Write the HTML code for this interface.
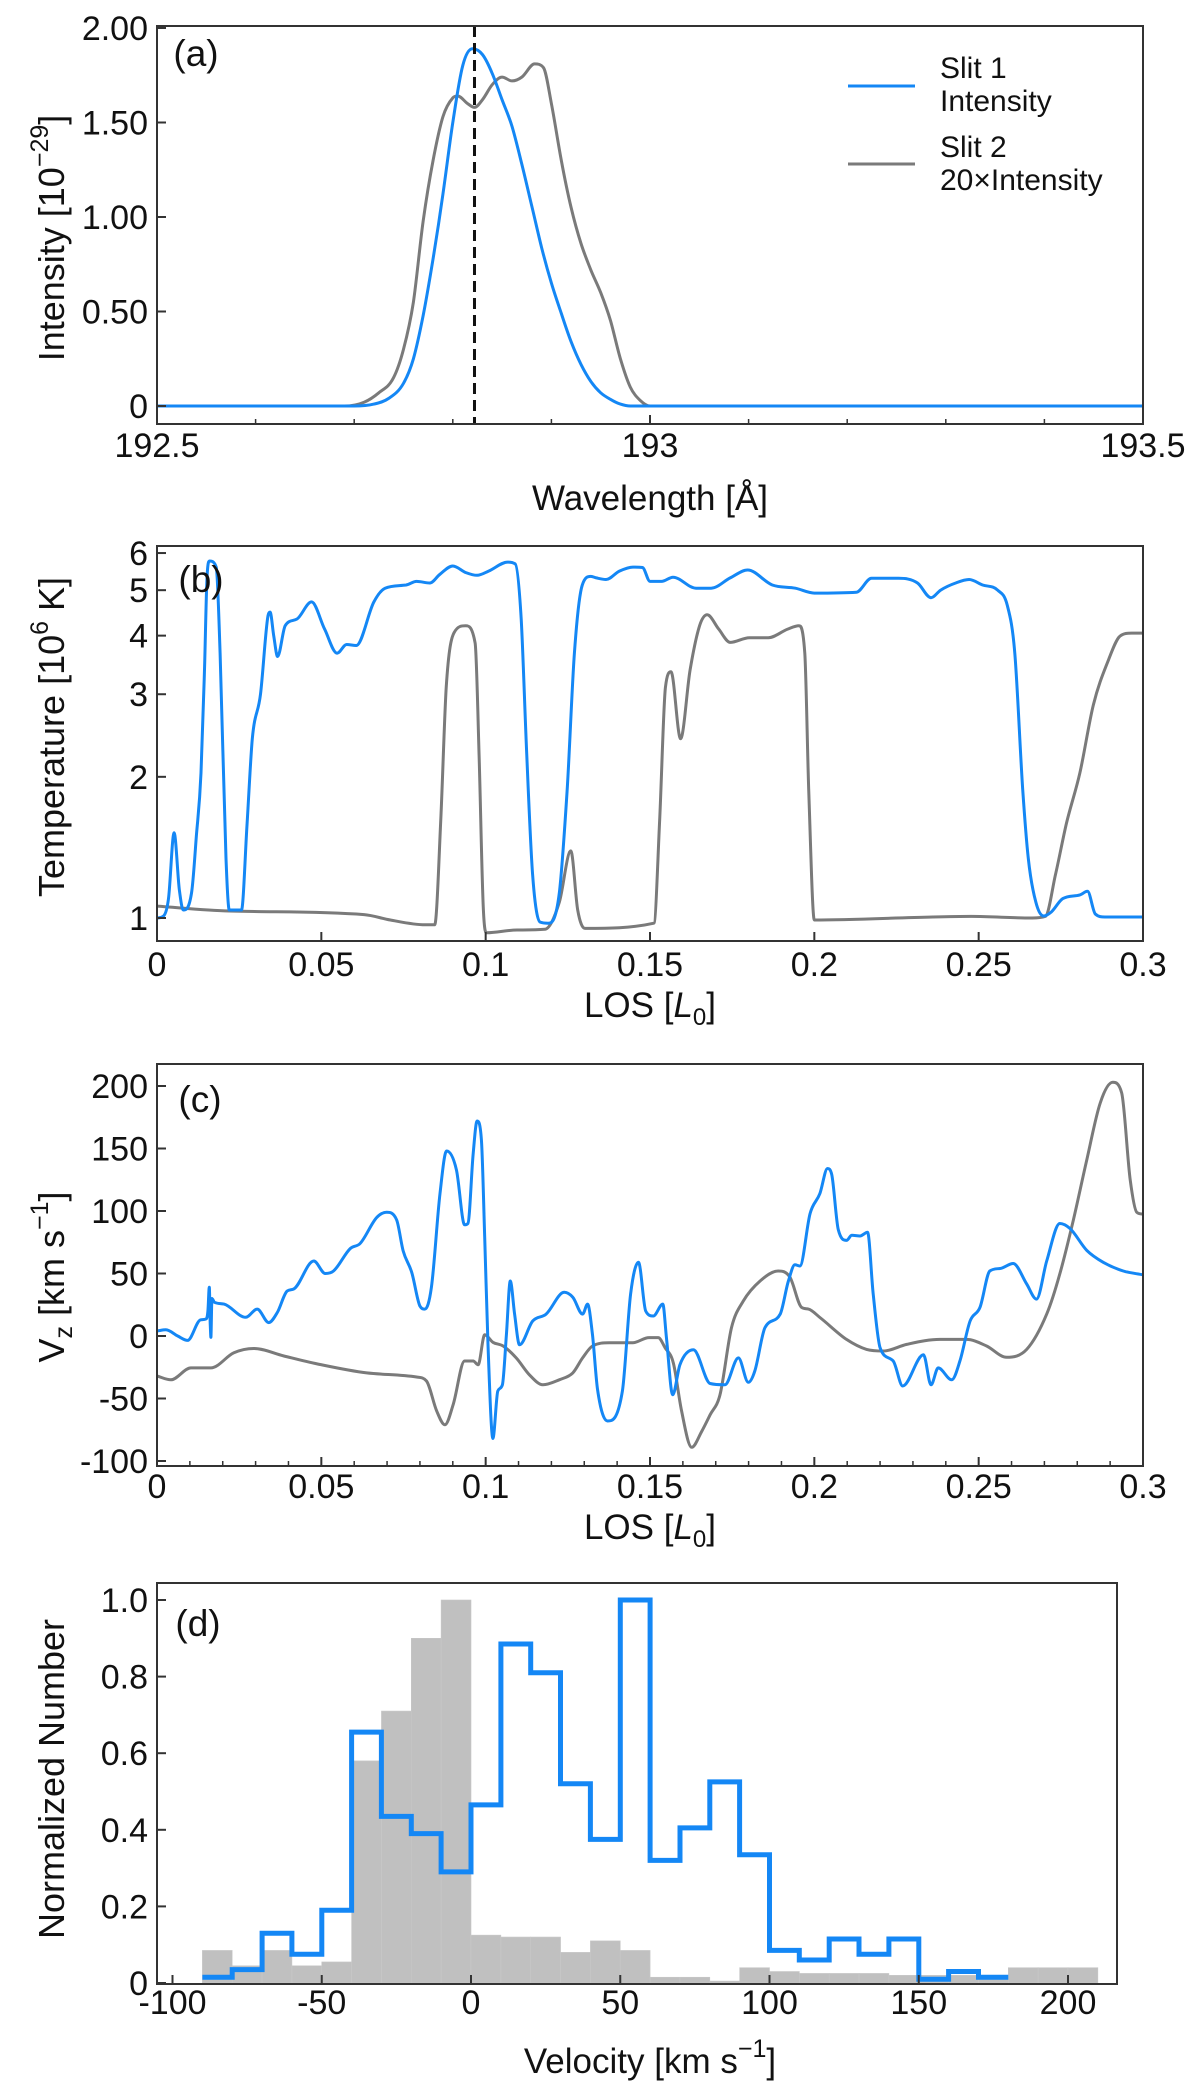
<!DOCTYPE html>
<html><head><meta charset="utf-8"><style>
html,body{margin:0;padding:0;background:#fff;}
svg{display:block;font-family:"Liberation Sans",Arial,sans-serif;}
</style></head><body>
<svg id="fig" width="1200" height="2099" viewBox="0 0 1200 2099" xmlns="http://www.w3.org/2000/svg">
<rect width="1200" height="2099" fill="#fff"/>
<g id="layer"></g>
</svg>
<script>
// ---------- Panel (a) data ----------
const aBlueLam=[192.5,192.70,192.72,192.735,192.75,192.76,192.77,192.78,192.79,192.80,192.81,192.82,192.83,192.84,192.85,192.86,192.87,192.88,192.89,192.90,192.91,192.92,192.93,192.94,192.95,192.96,192.97,192.98,193.5];
const aBlueI=[0,0,0.01,0.04,0.12,0.25,0.48,0.78,1.12,1.5,1.8,1.89,1.86,1.76,1.62,1.48,1.28,1.06,0.84,0.65,0.49,0.34,0.22,0.13,0.07,0.035,0.01,0,0];
const aGrayLam=[192.5,192.69,192.71,192.725,192.74,192.75,192.76,192.77,192.78,192.79,192.80,192.805,192.815,192.822,192.83,192.84,192.85,192.86,192.87,192.883,192.892,192.90,192.91,192.92,192.93,192.94,192.95,192.96,192.97,192.98,192.99,193.0,193.5];
const aGrayI=[0,0,0.02,0.07,0.15,0.3,0.55,0.98,1.3,1.53,1.63,1.64,1.6,1.58,1.62,1.7,1.74,1.72,1.74,1.81,1.79,1.6,1.3,1.05,0.86,0.72,0.6,0.45,0.25,0.1,0.03,0,0];
const aRefLam=192.822;
const aXTicks=[192.5,193,193.5];
const aXTickLabels=["192.5","193","193.5"];
const aYTicks=[0,0.5,1,1.5,2];
const aYTickLabels=["0","0.50","1.00","1.50","2.00"];

// ---------- Panel (b) data ----------
const bBlueLos=[0,0.002,0.0035,0.0052,0.0068,0.008,0.0105,0.012,0.0134,0.0145,0.0152,0.016,0.018,0.0192,0.021,0.022,0.0257,0.0274,0.029,0.0315,0.0338,0.0344,0.0355,0.0367,0.039,0.0426,0.047,0.051,0.0548,0.0577,0.0606,0.066,0.0694,0.0758,0.079,0.083,0.086,0.090,0.094,0.0974,0.1009,0.1067,0.109,0.1108,0.1125,0.1143,0.1166,0.119,0.1224,0.1248,0.127,0.1294,0.132,0.1337,0.1366,0.1407,0.1448,0.1477,0.15,0.1535,0.157,0.164,0.1686,0.1744,0.1797,0.1872,0.1942,0.2,0.2128,0.2174,0.2256,0.2314,0.2355,0.2384,0.243,0.2471,0.2512,0.2558,0.2587,0.261,0.2634,0.2651,0.2674,0.2698,0.2721,0.2756,0.2808,0.2831,0.2855,0.2884,0.3];
const bBlueT=[1.0,1.01,1.1,1.52,1.15,1.04,1.13,1.5,2.04,3.5,5.3,5.77,5.6,3.67,1.34,1.04,1.04,1.59,2.41,3.0,4.42,4.49,4.0,3.61,4.2,4.34,4.72,4.13,3.67,3.83,3.81,4.72,5.05,5.13,5.22,5.18,5.4,5.63,5.45,5.38,5.49,5.74,5.69,4.34,2.22,1.23,0.98,0.975,1.13,1.88,3.67,5.13,5.35,5.31,5.27,5.49,5.6,5.59,5.22,5.22,5.33,5.05,5.05,5.31,5.52,5.13,5.05,4.93,4.95,5.3,5.3,5.18,4.82,5.0,5.18,5.27,5.13,5.0,4.64,3.67,1.88,1.34,1.08,1.01,1.03,1.1,1.12,1.14,1.02,1.005,1.005];
const bGrayLos=[0,0.022,0.063,0.071,0.0816,0.0845,0.0863,0.088,0.0904,0.0939,0.0968,0.098,0.0993,0.1003,0.1096,0.118,0.1224,0.1259,0.128,0.1302,0.1512,0.1529,0.1547,0.1564,0.1593,0.1622,0.1651,0.1674,0.1709,0.1744,0.1802,0.186,0.1919,0.1953,0.1971,0.1983,0.2,0.236,0.2477,0.2663,0.2703,0.2733,0.2767,0.2808,0.2849,0.2895,0.293,0.2965,0.3];
const bGrayT=[1.06,1.035,1.017,0.99,0.967,0.967,1.59,3.1,4.06,4.2,3.86,2.22,1.04,0.93,0.943,0.946,1.08,1.39,1.04,0.95,0.975,1.59,3.1,3.35,2.41,3.38,4.2,4.43,4.13,3.87,3.96,3.96,4.13,4.2,3.67,1.88,0.99,1.005,1.008,1.0,1.008,1.23,1.59,2.04,2.85,3.55,3.99,4.05,4.05];
const bYTicks=[1,2,3,4,5,6];
const bYTickLabels=["1","2","3","4","5","6"];
const losTicks=[0,0.05,0.1,0.15,0.2,0.25,0.3];
const losTickLabels=["0","0.05","0.1","0.15","0.2","0.25","0.3"];

// ---------- Panel (c) data ----------
const cBlueLos=[0,0.0027,0.0063,0.0093,0.0133,0.0148,0.0155,0.0159,0.0162,0.0164,0.0167,0.0175,0.0204,0.027,0.0305,0.034,0.0366,0.0396,0.0416,0.0477,0.0512,0.0537,0.0588,0.0618,0.0669,0.0699,0.0729,0.0749,0.0775,0.08,0.0815,0.0835,0.0861,0.0881,0.0911,0.0936,0.0946,0.0962,0.0974,0.0987,0.0997,0.1007,0.1022,0.1037,0.1051,0.1063,0.1075,0.1088,0.1103,0.1143,0.1184,0.1239,0.1265,0.1295,0.131,0.1325,0.134,0.1371,0.1416,0.1441,0.1465,0.1487,0.151,0.1539,0.155,0.1569,0.1591,0.1632,0.1683,0.1728,0.1769,0.1799,0.1819,0.185,0.1896,0.1921,0.1941,0.1956,0.1987,0.2017,0.204,0.2053,0.2073,0.2098,0.2114,0.2139,0.2162,0.2179,0.22,0.224,0.2269,0.2332,0.2355,0.2377,0.2418,0.2443,0.2474,0.2504,0.2534,0.2565,0.2605,0.2646,0.2676,0.2707,0.2747,0.2778,0.2829,0.2879,0.294,0.3];
const cBlueV=[4,5,0,-3.5,13,13.5,20,39,10,-1,30,27,25.5,15,21.5,10.7,18.8,36,37.6,60,50,52,70,74,95,99,93,68,51,24,21.5,39,114,148,133,89,90,146,172,157,79,-7,-82,-44,-39,1,44,17.5,-7,12,17.5,35,31,17.5,25.5,1,-42,-68,-44,33.5,59,20,16,25.5,-1,-47,-23,-11,-38,-39,-17.5,-37,-28,6.7,17.5,44,57,56,98,114,134,129,85,76.5,80.6,80,83,33.6,-9.4,-20,-40,-15,-39,-25.5,-35,-20,12,23,52,54,58,41.6,29.5,60,90,86,68.5,59,52,49];
const cGrayLos=[0,0.0042,0.0103,0.0164,0.0234,0.0295,0.0386,0.0487,0.0638,0.079,0.082,0.0851,0.0876,0.0901,0.0936,0.0962,0.0977,0.0997,0.1022,0.1053,0.1093,0.1133,0.1174,0.1224,0.1265,0.1295,0.1325,0.1376,0.1447,0.1497,0.1525,0.1546,0.1571,0.1596,0.1627,0.1657,0.1683,0.1713,0.1748,0.1784,0.1835,0.189,0.1926,0.1961,0.1982,0.2017,0.2098,0.2159,0.221,0.2281,0.2382,0.2463,0.2524,0.2585,0.2646,0.2707,0.2747,0.2788,0.2829,0.287,0.2908,0.2935,0.2961,0.2981,0.3];
const cGrayV=[-32,-35,-25.5,-25.5,-13.4,-10,-16,-22.3,-29.5,-32.8,-36,-60,-71,-55,-20,-20,-23,1,-5,-8,-17.5,-31,-39,-35,-29.5,-17.5,-8,-5.4,-5.4,-1.3,-1.3,-9.4,-21.5,-60,-89,-76.5,-63,-47,6.7,28,44,52,47,23,21.5,14.8,-2.7,-10.7,-12,-6.7,-2.7,-2.7,-8,-17,-10.7,17.5,49.7,92.6,141,186.6,203,194.7,125,99,97.5];
const cYTicks=[-100,-50,0,50,100,150,200];
const cYTickLabels=["-100","-50","0","50","100","150","200"];

// ---------- Panel (d) data ----------
const dBinStart=-90;
const dBinWidth=10;
const dGrayCounts=[0.085,0.045,0.085,0.045,0.055,0.58,0.71,0.9,1.0,0.125,0.12,0.12,0.08,0.11,0.085,0.015,0.015,0.005,0.04,0.03,0.025,0.025,0.025,0.02,0.02,0.02,0.01,0.04,0.04,0.04];
const dBlueCounts=[0.015,0.035,0.13,0.075,0.19,0.655,0.435,0.39,0.29,0.465,0.885,0.81,0.52,0.375,1.0,0.32,0.405,0.525,0.335,0.085,0.06,0.115,0.075,0.115,0.01,0.03,0.015];
const dXTicks=[-100,-50,0,50,100,150,200];
const dXTickLabels=["-100","-50","0","50","100","150","200"];
const dYTicks=[0,0.2,0.4,0.6,0.8,1.0];
const dYTickLabels=["0","0.2","0.4","0.6","0.8","1.0"];

// ---------- drawing ----------
const NS="http://www.w3.org/2000/svg";
const layer=document.getElementById('layer');
const BLUE="#1487f5", GRAY="#7a7a7a", AX="#333";
function mk(tag,attrs,parent){const e=document.createElementNS(NS,tag);for(const k in attrs)e.setAttribute(k,attrs[k]);(parent||layer).appendChild(e);return e;}
// monotone cubic (Fritsch-Carlson) in pixel space
function linePath(xs,ys,fx,fy){
  const X=xs.map(fx),Y=ys.map(fy),n=X.length;
  const d=[],m=[];
  for(let i=0;i<n-1;i++){const h=X[i+1]-X[i];d.push(h===0?0:(Y[i+1]-Y[i])/h);}
  m[0]=d[0];m[n-1]=d[n-2];
  for(let i=1;i<n-1;i++){m[i]=(d[i-1]*d[i]<=0)?0:(d[i-1]+d[i])/2;}
  for(let i=0;i<n-1;i++){
    if(d[i]===0){m[i]=0;m[i+1]=0;continue;}
    const a=m[i]/d[i],b=m[i+1]/d[i],s=a*a+b*b;
    if(s>9){const t=3/Math.sqrt(s);m[i]=t*a*d[i];m[i+1]=t*b*d[i];}
  }
  let p="M"+X[0].toFixed(1)+","+Y[0].toFixed(1);
  for(let i=0;i<n-1;i++){
    const h=(X[i+1]-X[i])/3;
    p+="C"+(X[i]+h).toFixed(1)+","+(Y[i]+m[i]*h).toFixed(1)+" "+(X[i+1]-h).toFixed(1)+","+(Y[i+1]-m[i+1]*h).toFixed(1)+" "+X[i+1].toFixed(1)+","+Y[i+1].toFixed(1);
  }
  return p;
}

const L=157,R=1143;
const axA={top:26,bot:424};
const xA=v=>L+(v-192.5)*(R-L);
const yA=v=>406-189*v;
const axB={top:546,bot:941};
const xL=v=>L+v/0.3*(R-L);
const yB=v=>918-469*Math.log10(v);
const axC={top:1064,bot:1466};
const yC=v=>1336-1.25*v;
const dL=157,dR=1117;
const axD={top:1583,bot:1984};
const xD=v=>471+2.985*v;
const yD=v=>1983-383*v;

function frame(g,name,x0,x1,y0,y1){
  const r=mk('rect',{x:x0,y:y0,width:x1-x0,height:y1-y0,fill:'none',stroke:AX,'stroke-width':2},g);
  
  
}
function text(g,name,x,y,str,size,anchor,extra){
  const t=mk('text',Object.assign({x:x,y:y,'font-size':size,'text-anchor':anchor||'middle',fill:'#111'},extra||{}),g);
  t.textContent=str;
  
  
  return t;
}
function xTicks(g,name,ticks,labels,fx,y0,y1,labY){
  ticks.forEach((v,i)=>{
    const x=fx(v);
    const tk=mk('line',{x1:x,x2:x,y1:y1,y2:y1-9,stroke:AX,'stroke-width':2},g);
    
    
    text(g,name+'-tick-label',x,labY,labels[i],34,'middle');
  });
}
function yTicks(g,name,ticks,labels,fy,x0,labX){
  ticks.forEach((v,i)=>{
    const y=fy(v);
    const tk=mk('line',{x1:x0,x2:x0+9,y1:y,y2:y,stroke:AX,'stroke-width':2},g);
    
    
    text(g,name+'-tick-label',labX,y+12,labels[i],34,'end');
  });
}
function minorX(g,name,vals,fx,yb){
  vals.forEach(v=>{const x=fx(v);
    const m=mk('line',{x1:x,x2:x,y1:yb,y2:yb-5,stroke:AX,'stroke-width':1.5},g);
    
    });
}
function series(g,name,d,color,w){
  const p=mk('path',{d:d,fill:'none',stroke:color,'stroke-width':w,'stroke-linejoin':'round','stroke-linecap':'round'},g);
  
  
  return p;
}
function clip(id,x0,x1,y0,y1){const c=mk('clipPath',{id:id});mk('rect',{x:x0,y:y0,width:x1-x0,height:y1-y0},c);}

// ===== Panel a =====
const gA=mk('g',{});


clip('ca',L,R,axA.top,axA.bot);
const gAc=mk('g',{'clip-path':'url(#ca)'},gA);
series(gAc,'slit2-intensity-line',linePath(aGrayLam,aGrayI,xA,yA),GRAY,3);
series(gAc,'slit1-intensity-line',linePath(aBlueLam,aBlueI,xA,yA),BLUE,3);
const ref=mk('line',{x1:xA(aRefLam),x2:xA(aRefLam),y1:axA.top,y2:axA.bot,stroke:'#111','stroke-width':3,'stroke-dasharray':'11,6'},gA);


frame(gA,'panel-a-frame',L,R,axA.top,axA.bot);
xTicks(gA,'panel-a-x',aXTicks,aXTickLabels,xA,axA.top,axA.bot,457);
minorX(gA,'panel-a-x-minor-tick',[192.6,192.7,192.8,192.9,193.1,193.2,193.3,193.4],xA,axA.bot);
yTicks(gA,'panel-a-y',aYTicks,aYTickLabels,yA,L,148);
text(gA,'panel-a-label',196,66,'(a)',37,'middle');
text(gA,'panel-a-x-axis-title',650,510,'Wavelength [Å]',35,'middle');
const ylA=mk('text',{transform:'translate(64,238) rotate(-90)','font-size':36,'text-anchor':'middle',fill:'#111'},gA);


ylA.innerHTML='Intensity [10<tspan font-size="25" dy="-16">−29</tspan><tspan dy="16">]</tspan>';
const lg=mk('g',{},gA);


const l1=mk('line',{x1:848,x2:915,y1:86,y2:86,stroke:BLUE,'stroke-width':3},lg);


text(lg,'legend-slit1-label',940,78,'Slit 1',30,'start');
text(lg,'legend-slit1-label-2',940,111,'Intensity',30,'start');
const l2=mk('line',{x1:848,x2:915,y1:164,y2:164,stroke:GRAY,'stroke-width':3},lg);


text(lg,'legend-slit2-label',940,157,'Slit 2',30,'start');
text(lg,'legend-slit2-label-2',940,190,'20×Intensity',30,'start');

// ===== Panel b =====
const gB=mk('g',{});


clip('cb',L,R,axB.top,axB.bot);
const gBc=mk('g',{'clip-path':'url(#cb)'},gB);
series(gBc,'slit2-temperature-line',linePath(bGrayLos,bGrayT,xL,yB),GRAY,3);
series(gBc,'slit1-temperature-line',linePath(bBlueLos,bBlueT,xL,yB),BLUE,3);
frame(gB,'panel-b-frame',L,R,axB.top,axB.bot);
xTicks(gB,'panel-b-x',losTicks,losTickLabels,xL,axB.top,axB.bot,976);
yTicks(gB,'panel-b-y',bYTicks,bYTickLabels,yB,L,148);
text(gB,'panel-b-label',201,592,'(b)',37,'middle');
const xlB=mk('text',{x:650,y:1017,'font-size':35,'text-anchor':'middle',fill:'#111'},gB);


xlB.innerHTML='LOS [<tspan font-style="italic">L</tspan><tspan font-size="24" dy="8">0</tspan><tspan dy="-8">]</tspan>';
const ylB=mk('text',{transform:'translate(64,737) rotate(-90)','font-size':36,'text-anchor':'middle',fill:'#111'},gB);


ylB.innerHTML='Temperature [10<tspan font-size="25" dy="-16">6</tspan><tspan dy="16"> K]</tspan>';

// ===== Panel c =====
const gC=mk('g',{});


clip('cc',L,R,axC.top,axC.bot);
const gCc=mk('g',{'clip-path':'url(#cc)'},gC);
series(gCc,'slit2-velocity-line',linePath(cGrayLos,cGrayV,xL,yC),GRAY,3);
series(gCc,'slit1-velocity-line',linePath(cBlueLos,cBlueV,xL,yC),BLUE,3);
frame(gC,'panel-c-frame',L,R,axC.top,axC.bot);
xTicks(gC,'panel-c-x',losTicks,losTickLabels,xL,axC.top,axC.bot,1498);
minorX(gC,'panel-c-x-minor-tick',[0.01,0.02,0.03,0.04,0.06,0.07,0.08,0.09,0.11,0.12,0.13,0.14,0.16,0.17,0.18,0.19,0.21,0.22,0.23,0.24,0.26,0.27,0.28,0.29],xL,axC.bot);
yTicks(gC,'panel-c-y',cYTicks,cYTickLabels,yC,L,148);
text(gC,'panel-c-label',200,1112,'(c)',37,'middle');
const xlC=mk('text',{x:650,y:1539,'font-size':35,'text-anchor':'middle',fill:'#111'},gC);


xlC.innerHTML='LOS [<tspan font-style="italic">L</tspan><tspan font-size="24" dy="8">0</tspan><tspan dy="-8">]</tspan>';
const ylC=mk('text',{transform:'translate(64,1277) rotate(-90)','font-size':36,'text-anchor':'middle',fill:'#111'},gC);


ylC.innerHTML='V<tspan font-size="25" dy="8">z</tspan><tspan dy="-8"> [km s</tspan><tspan font-size="25" dy="-16">−1</tspan><tspan dy="16">]</tspan>';

// ===== Panel d =====
const gD=mk('g',{});


dGrayCounts.forEach((c,i)=>{
  const v0=dBinStart+i*dBinWidth;
  const b=mk('rect',{x:xD(v0),y:yD(c),width:xD(v0+dBinWidth)-xD(v0),height:yD(0)-yD(c),fill:'#c0c0c0',stroke:'#c8c8c8','stroke-width':0.6},gD);
  
  
});
let dd="";
dBlueCounts.forEach((c,i)=>{
  const v0=dBinStart+i*dBinWidth;
  dd+=(i?"L":"M")+xD(v0).toFixed(1)+","+yD(c).toFixed(1)+"L"+xD(v0+dBinWidth).toFixed(1)+","+yD(c).toFixed(1);
});
const bh=mk('path',{d:dd,fill:'none',stroke:BLUE,'stroke-width':5,'stroke-linejoin':'miter'},gD);


frame(gD,'panel-d-frame',dL,dR,axD.top,axD.bot);
xTicks(gD,'panel-d-x',dXTicks,dXTickLabels,xD,axD.top,axD.bot,2014);
yTicks(gD,'panel-d-y',dYTicks,dYTickLabels,yD,dL,148);
text(gD,'panel-d-label',198,1636,'(d)',37,'middle');
const xlD=mk('text',{x:650,y:2073,'font-size':35,'text-anchor':'middle',fill:'#111'},gD);


xlD.innerHTML='Velocity [km s<tspan font-size="25" dy="-16">−1</tspan><tspan dy="16">]</tspan>';
const ylD=mk('text',{transform:'translate(64,1779) rotate(-90)','font-size':36,'text-anchor':'middle',fill:'#111'},gD);


ylD.textContent='Normalized Number';
</script>
</body></html>
